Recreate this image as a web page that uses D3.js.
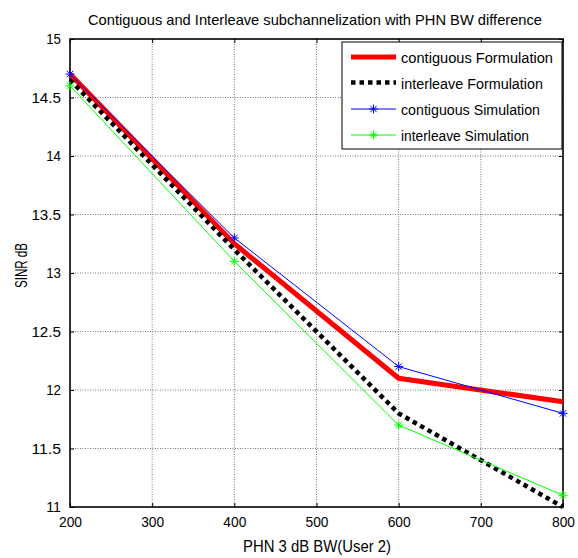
<!DOCTYPE html>
<html>
<head>
<meta charset="utf-8">
<script src="https://cdn.jsdelivr.net/npm/d3@7"></script>
<style>
  html, body { margin: 0; padding: 0; background: #fff; }
  svg { display: block; font-family: "Liberation Sans", Arial, sans-serif; }
</style>
</head>
<body>
<svg id="chart" width="578" height="558"></svg>
<script>
const xValues = [200, 400, 600, 800];
const contiguousFormulation = [14.7, 13.25, 12.1, 11.9];
const interleaveFormulation = [14.65, 13.2, 11.8, 11.0];
const contiguousSimulation = [14.7, 13.3, 12.2, 11.8];
const interleaveSimulation = [14.6, 13.1, 11.7, 11.1];
const xTicks = [200, 300, 400, 500, 600, 700, 800];
const yTicks = [11, 11.5, 12, 12.5, 13, 13.5, 14, 14.5, 15];
const seriesNames = ["contiguous Formulation", "interleave Formulation", "contiguous Simulation", "interleave Simulation"];
const titleText = "Contiguous and Interleave subchannelization with PHN BW difference";
const xLabelText = "PHN 3 dB BW(User 2)";
const yLabelText = "SINR dB";

const svg = d3.select("#chart");
const L = 70, R = 563, T = 39, B = 507;
const x = d3.scaleLinear().domain([200, 800]).range([L, R]);
const y = d3.scaleLinear().domain([11, 15]).range([B, T]);

// grid
const grid = svg.append("g");
grid.selectAll("line.gx").data(xTicks.slice(1, -1)).enter().append("line")
  .attr("x1", d => x(d)).attr("x2", d => x(d)).attr("y1", T).attr("y2", B)
  .attr("stroke", "#555").attr("stroke-width", 0.8).attr("stroke-dasharray", "1,1.5");
grid.selectAll("line.gy").data(yTicks.slice(1, -1)).enter().append("line")
  .attr("x1", L).attr("x2", R).attr("y1", d => y(d)).attr("y2", d => y(d))
  .attr("stroke", "#555").attr("stroke-width", 0.8).attr("stroke-dasharray", "1,1.5");

// axes (ticks inward)
const fmt = d => String(d);
const ax = svg.append("g").attr("transform", `translate(0,${B})`)
  .call(d3.axisBottom(x).tickValues(xTicks).tickSize(-4).tickPadding(9).tickFormat(fmt));
const axTop = svg.append("g").attr("transform", `translate(0,${T})`)
  .call(d3.axisTop(x).tickValues(xTicks).tickSize(-4).tickFormat(""));
const ay = svg.append("g").attr("transform", `translate(${L},0)`)
  .call(d3.axisLeft(y).tickValues(yTicks).tickSize(-4).tickPadding(9).tickFormat(fmt));
const ayR = svg.append("g").attr("transform", `translate(${R},0)`)
  .call(d3.axisRight(y).tickValues(yTicks).tickSize(-4).tickFormat(""));
[ax, axTop, ay, ayR].forEach(g => {
  g.select(".domain").remove();
  g.selectAll(".tick line").attr("stroke", "#000").attr("stroke-width", 1);
  g.selectAll("text").attr("font-size", 15).attr("fill", "#000")
    .attr("font-family", "Liberation Sans, Arial, sans-serif");
});
ax.selectAll("text").attr("dy", "0.71em")
  .attr("textLength", 23).attr("lengthAdjust", "spacingAndGlyphs");
ay.selectAll("text").each(function (d) {
  d3.select(this).attr("textLength", String(d).length * 7.4).attr("lengthAdjust", "spacingAndGlyphs");
});

// box
svg.append("rect").attr("x", L).attr("y", T).attr("width", R - L).attr("height", B - T)
  .attr("fill", "none").attr("stroke", "#000").attr("stroke-width", 1.6);

// lines
const line = vals => d3.line().x((d, i) => x(xValues[i])).y(d => y(d))(vals);
const plot = svg.append("g");
plot.append("path").attr("d", line(contiguousFormulation)).attr("fill", "none")
  .attr("stroke", "#ff0000").attr("stroke-width", 5);
plot.append("path").attr("d", line(interleaveFormulation)).attr("fill", "none")
  .attr("stroke", "#000").attr("stroke-width", 4.5).attr("stroke-dasharray", "4.5,4");
plot.append("path").attr("d", line(contiguousSimulation)).attr("fill", "none")
  .attr("stroke", "#0000ff").attr("stroke-width", 1);
plot.append("path").attr("d", line(interleaveSimulation)).attr("fill", "none")
  .attr("stroke", "#00ff00").attr("stroke-width", 1);

function star(g, cx, cy, color) {
  const s = 4.5, d = 3.2;
  g.append("path")
    .attr("d", `M${cx - s},${cy}L${cx + s},${cy}M${cx},${cy - s}L${cx},${cy + s}M${cx - d},${cy - d}L${cx + d},${cy + d}M${cx - d},${cy + d}L${cx + d},${cy - d}`)
    .attr("stroke", color).attr("stroke-width", 1).attr("fill", "none");
}
contiguousSimulation.forEach((v, i) => star(plot, x(xValues[i]), y(v), "#0000ff"));
interleaveSimulation.forEach((v, i) => star(plot, x(xValues[i]), y(v), "#00ff00"));

// legend
const lg = svg.append("g");
lg.append("rect").attr("x", 342).attr("y", 42).attr("width", 220).attr("height", 107)
  .attr("fill", "#fff").attr("stroke", "#000").attr("stroke-width", 1);
const rowsY = [57, 82.5, 109, 135];
const styles = [
  { c: "#ff0000", w: 5, dash: null, m: false },
  { c: "#000", w: 4.5, dash: "4.5,4", m: false },
  { c: "#0000ff", w: 1, dash: null, m: true },
  { c: "#00ff00", w: 1, dash: null, m: true }
];
const widths = [152, 142, 139, 128];
seriesNames.forEach((name, i) => {
  const st = styles[i];
  const ln = lg.append("line").attr("x1", 351).attr("x2", 396).attr("y1", rowsY[i]).attr("y2", rowsY[i])
    .attr("stroke", st.c).attr("stroke-width", st.w);
  if (st.dash) ln.attr("stroke-dasharray", st.dash);
  if (st.m) star(lg, 373.5, rowsY[i], st.c);
  lg.append("text").attr("x", 401).attr("y", rowsY[i] + 6).attr("font-size", 15.5)
    .attr("textLength", widths[i]).attr("lengthAdjust", "spacingAndGlyphs")
    .text(name);
});

// title & labels
svg.append("text").attr("x", 88).attr("y", 25).attr("font-size", 15)
  .attr("textLength", 454).attr("lengthAdjust", "spacingAndGlyphs").text(titleText);
svg.append("text").attr("x", 243).attr("y", 552).attr("font-size", 16)
  .attr("textLength", 148).attr("lengthAdjust", "spacingAndGlyphs").text(xLabelText);
svg.append("text").attr("transform", "translate(27,288) rotate(-90)").attr("font-size", 16)
  .attr("textLength", 45).attr("lengthAdjust", "spacingAndGlyphs").text(yLabelText);
</script>
</body>
</html>
